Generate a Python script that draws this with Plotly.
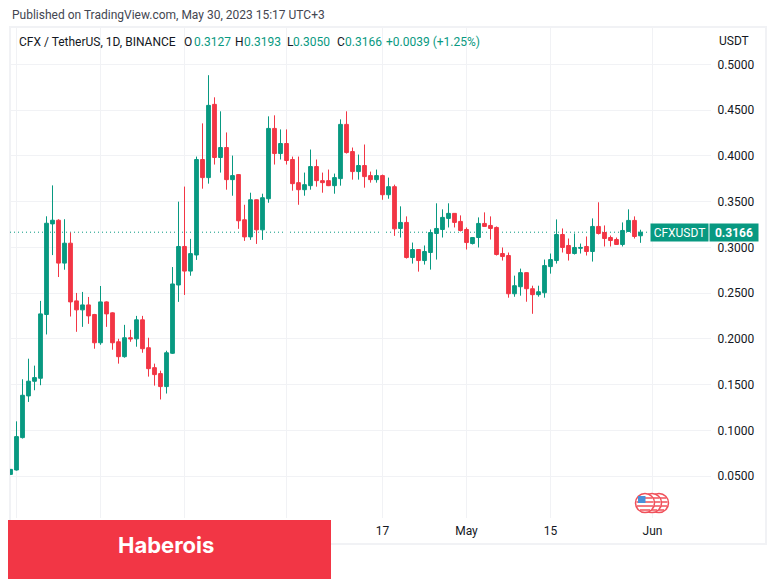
import pandas as pd
import plotly.graph_objects as go

UP = "#089981"
DOWN = "#F23645"
GRID = "#F1F2F5"
TEXT = "#131722"
FONT = "Roboto"

first_day = "2023-02-14"
opens = [
    .0518, .0566, .0920, .1376, .1536, .1569, .2266, .3257, .3297, .2828, .3046, .2415, .2317, .2371, .2266,
    .1957, .2404, .2284, .1968, .1805, .2012, .2000, .2208, .1903, .1685, .1620, .1478, .1842, .2589, .3010,
    .2741, .2917, .3961, .3763, .4564, .3983, .4092, .3741, .3796, .3302, .3115, .3521, .3192, .3532, .4301,
    .4026, .4136, .3961, .3708, .3631, .3675, .3884, .3730, .3730, .3675, .3752, .4345, .4048, .3829, .3895,
    .3785, .3741, .3785, .3576, .3664, .3207, .3273, .2889, .2977, .2856, .2944, .3152, .3196, .3317, .3372,
    .3284, .3196, .3042, .3108, .3262, .3240, .3218, .2933, .2911, .2493, .2570, .2724, .2548, .2483, .2504,
    .2790, .2856, .3141, .3021, .2933, .2990, .3010, .2955, .3229, .3163, .3108, .3086, .3032, .3174, .3295,
    .3127,
]
highs = [
    .0573, .1098, .1558, .1783, .1707, .2415, .3340, .3678, .3308, .3308, .3162, .2502, .2513, .2458, .2273,
    .2578, .2410, .2290, .2001, .2153, .2099, .2251, .2251, .2012, .1729, .1652, .1870, .2785, .3500, .3665,
    .3093, .3993, .4356, .4883, .4641, .4488, .4257, .4004, .3800, .3466, .3598, .3525, .3587, .4433, .4444,
    .4290, .4290, .3993, .3993, .3818, .4070, .3961, .3818, .3851, .3807, .4400, .4488, .4092, .4015, .4125,
    .3829, .3851, .3796, .3763, .3686, .3449, .3339, .3053, .2980, .3021, .3196, .3482, .3416, .3482, .3375,
    .3350, .3218, .3110, .3328, .3383, .3339, .3229, .2999, .2944, .2691, .2768, .2728, .2581, .2581, .2867,
    .2933, .3306, .3207, .3097, .3152, .3042, .3119, .3317, .3493, .3240, .3130, .3108, .3273, .3416, .3339,
    .3193,
]
lows = [
    .0518, .0560, .0910, .1310, .1438, .1493, .2048, .2916, .2676, .2756, .2244, .2077, .2131, .2164, .1892,
    .1935, .2131, .1881, .1729, .1794, .1968, .1914, .1848, .1587, .1489, .1337, .1402, .1835, .2404, .2480,
    .2690, .2863, .3642, .3697, .3906, .3818, .3631, .3565, .3203, .3071, .3082, .3038, .3082, .3488, .3906,
    .3961, .3906, .3620, .3466, .3565, .3631, .3664, .3598, .3670, .3587, .3675, .4026, .3741, .3741, .3653,
    .3708, .3708, .3521, .3532, .3126, .3108, .2878, .2823, .2735, .2812, .2757, .2867, .3108, .3218, .3218,
    .3174, .2977, .3032, .2999, .3225, .3086, .2911, .2856, .2450, .2460, .2472, .2406, .2274, .2461, .2450,
    .2713, .2823, .2944, .2856, .2922, .2933, .2911, .2845, .3141, .3010, .3010, .3030, .3010, .3172, .3097,
    .3050,
]
closes = [
    .0573, .0931, .1383, .1537, .1576, .2273, .3264, .3297, .2828, .3046, .2404, .2317, .2371, .2251, .1957,
    .2404, .2273, .1957, .1805, .2012, .2000, .2208, .1892, .1674, .1609, .1478, .1848, .2600, .3010, .2741,
    .2932, .3961, .3763, .4553, .3983, .4092, .3741, .3785, .3291, .3115, .3521, .3192, .3543, .4301, .4026,
    .4136, .3950, .3697, .3631, .3686, .3884, .3730, .3708, .3675, .3763, .4345, .4037, .3829, .3895, .3774,
    .3741, .3785, .3576, .3664, .3203, .3273, .2889, .2977, .2856, .2955, .3163, .3207, .3328, .3372, .3273,
    .3185, .3053, .3108, .3262, .3229, .3207, .2922, .2900, .2493, .2581, .2724, .2548, .2483, .2515, .2801,
    .2867, .3141, .2999, .2933, .2999, .2999, .2955, .3229, .3152, .3097, .3075, .3032, .3185, .3295, .3119,
    .3166,
]

tick_dates = ["2023-02-15", "2023-03-01", "2023-03-15", "2023-04-01", "2023-04-17", "2023-05-01", "2023-05-15", "2023-06-01"]
tick_labels = ["", "", "", "", "17", "May", "15", "Jun"]
price_ticks = [0.05, 0.10, 0.15, 0.20, 0.25, 0.30, 0.35, 0.40, 0.45, 0.50]

# plot area in window pixels, the page puts the figure 8px in from the corner
PAGE = 8
LEFT, RIGHT, TOP, BOTTOM = 10, 711, 28, 518


def px(x):
    return (x - LEFT) / (RIGHT - LEFT)


def py(y):
    return (BOTTOM - y) / (BOTTOM - TOP)


def add_label(text, x, y, color=TEXT, size=12, yref="paper", **kwargs):
    fig.add_annotation(text=text, xref="paper", yref=yref, x=x, y=y, showarrow=False,
                       yanchor="middle", font=dict(family=FONT, size=size, color=color), **kwargs)


days = pd.date_range(first_day, periods=len(opens))

fig = go.Figure()
fig.add_candlestick(
    x=days,
    open=opens,
    high=highs,
    low=lows,
    close=closes,
    increasing=dict(line=dict(color=UP, width=1), fillcolor=UP),
    decreasing=dict(line=dict(color=DOWN, width=1), fillcolor=DOWN),
    whiskerwidth=0,
    showlegend=False,
)

fig.update_layout(
    width=776 - PAGE,
    height=579 - PAGE,
    margin=dict(l=LEFT - PAGE, r=776 - RIGHT, t=TOP - PAGE, b=579 - BOTTOM),
    paper_bgcolor="white",
    plot_bgcolor="white",
    boxgap=0.1,
    showlegend=False,
    font=dict(family=FONT, size=12, color=TEXT),
    xaxis=dict(
        type="date",
        range=["2023-02-13 22:00", "2023-06-10 18:00"],
        rangeslider=dict(visible=False),
        tickmode="array",
        tickvals=tick_dates,
        ticktext=tick_labels,
        showgrid=True,
        gridcolor=GRID,
        gridwidth=1,
        zeroline=False,
        showline=False,
        ticks="outside",
        ticklen=2,
        tickcolor="white",
        tickfont=dict(family=FONT, size=12, color=TEXT),
    ),
    yaxis=dict(
        side="right",
        range=[0.0041, 0.5399],
        tickmode="array",
        tickvals=price_ticks,
        ticktext=[f"{p:.4f}" for p in price_ticks],
        showgrid=True,
        gridcolor=GRID,
        gridwidth=1,
        zeroline=False,
        showline=False,
        ticks="outside",
        ticklen=3,
        tickcolor="white",
        tickfont=dict(family=FONT, size=12, color=TEXT),
    ),
)

# outer frame and last price line
fig.add_shape(type="rect", xref="paper", yref="paper", x0=px(10), x1=px(766), y0=py(544), y1=py(27),
              line=dict(color=GRID, width=2), layer="below")
fig.add_shape(type="line", xref="paper", yref="y", x0=0, x1=px(650), y0=closes[-1], y1=closes[-1],
              line=dict(color=UP, width=1, dash="1px,3px"), layer="between")

# banner
fig.add_shape(type="rect", xref="paper", yref="paper", x0=px(0), x1=px(331), y0=py(579), y1=py(520),
              fillcolor=DOWN, line=dict(width=0))
fig.add_annotation(text="<b>Haberois</b>", xref="paper", yref="paper", x=px(166), y=py(545), showarrow=False,
                   xanchor="center", yanchor="middle", font=dict(family="Inter", size=22, color="white"))

# economic events icon, three overlapping flag rings
for cx in [659, 652, 645]:
    fig.add_shape(type="circle", xref="paper", yref="paper", x0=px(cx - 9.5), x1=px(cx + 9.5),
                  y0=py(512.5), y1=py(493.5), fillcolor="white", line=dict(color="#F0505A", width=1.5))
    for y, half in [(498, 7), (502, 8.5), (506, 8), (510, 5)]:
        fig.add_shape(type="line", xref="paper", yref="paper", x0=px(cx - half), x1=px(cx + half),
                      y0=py(y), y1=py(y), line=dict(color="#F0505A", width=1.5))
fig.add_shape(type="rect", xref="paper", yref="paper", x0=px(638), x1=px(645.5), y0=py(503), y1=py(496),
              fillcolor="#4A90D9", line=dict(width=0))

# header texts
add_label("Published on TradingView.com, May 30, 2023 15:17 UTC+3", px(10), py(15), color="#434651", xanchor="left")

legend_texts = ["CFX / TetherUS, 1D, BINANCE", "O", "0.3127", "H", "0.3193", "L", "0.3050", "C", "0.3166",
                "+0.0039 (+1.25%)"]
legend_lefts = [18, 183, 193, 234, 243, 286, 292, 336, 344, 385]
legend_colors = [TEXT, TEXT, UP, TEXT, UP, TEXT, UP, TEXT, UP, UP]
for text, left, color in zip(legend_texts, legend_lefts, legend_colors):
    add_label(text, px(left), py(42), color=color, xanchor="left", xshift=-1)

add_label("USDT", px(734), py(41), xanchor="center")

# last price labels on the axis
add_label("CFXUSDT", px(679.5), closes[-1], color="white", yref="y", xanchor="center",
          width=57, height=17, bgcolor=UP, borderpad=0)
add_label(f"<b>{closes[-1]:.4f}</b>", px(734), closes[-1], color="white", yref="y", xanchor="center",
          width=48, height=17, bgcolor=UP, borderpad=0)

fig.write_html("out.html")
